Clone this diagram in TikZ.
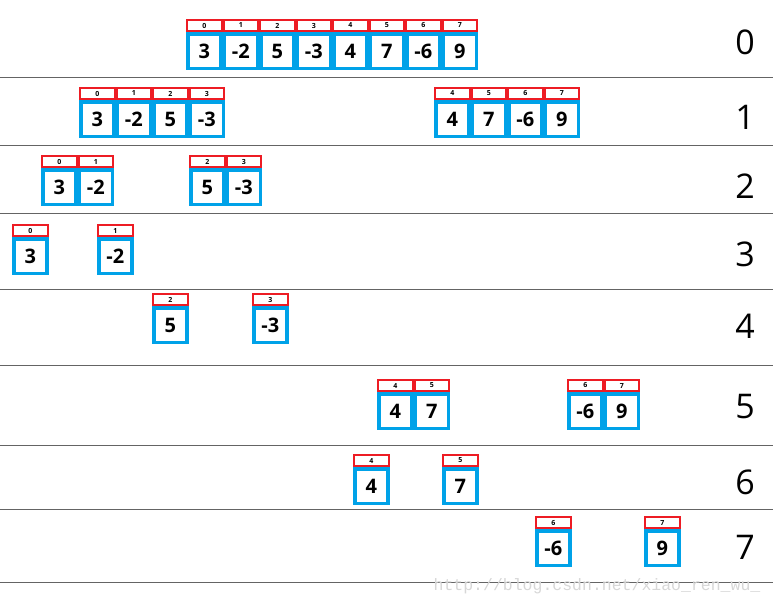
\documentclass[tikz,border=0pt]{standalone}
\usepackage{fontspec}
\setmainfont{Open Sans}
\newfontfamily\markfont{Liberation Mono}
\usetikzlibrary{positioning}
\definecolor{idxred}{RGB}{237,28,36}
\definecolor{valblue}{RGB}{0,162,232}
\definecolor{rulegray}{RGB}{100,100,100}
\definecolor{markgray}{RGB}{215,215,215}

\tikzset{
  idx/.style={draw=idxred, line width=2pt, fill=white, minimum width=34.5pt,
    minimum height=11pt, inner sep=0pt, outer sep=0pt,
    font=\fontsize{7}{7}\selectfont\bfseries},
  val/.style={draw=valblue, line width=3.5pt, fill=white, minimum width=33pt,
    minimum height=34.5pt, inner sep=0pt, outer sep=0pt,
    font=\fontsize{20}{20}\selectfont\bfseries},
  level/.style={font=\fontsize{34}{34}\selectfont},
  sep/.style={draw=rulegray, line width=1pt}
}

% one block of cells: name, left x, top y, first index, values
\newcommand{\cellrow}[5]{%
  \foreach \v [count=\k from 0] in {#5} {
    \pgfmathtruncatemacro{\n}{#4+\k}
    \node[idx] (#1i\k) at (#2+36.5*\k+18.25, #3+6.5) {\n};
    \node[val] (#1v\k) at (#2+36.5*\k+18.25, #3+32) {\v};
  }%
}

\begin{document}
\begin{tikzpicture}[x=1pt,y=-1pt]
    \useasboundingbox (0,0) rectangle (773,605);
    \foreach \y in {77,145,213,289,365,445,509,582}
        \draw[sep] (0,\y) -- (773,\y);

    \node[level] (lv0) at (745,42) {0};
    \node[level] (lv1) at (745,117) {1};
    \node[level] (lv2) at (745,186) {2};
    \node[level] (lv3) at (745,254) {3};
    \node[level] (lv4) at (745,326) {4};
    \node[level] (lv5) at (745,407) {5};
    \node[level] (lv6) at (745,482) {6};
    \node[level] (lv7) at (745,547) {7};

    \cellrow{r0}{186}{19}{0}{3,-2,5,-3,4,7,-6,9}
    \cellrow{r1a}{79}{87}{0}{3,-2,5,-3}
    \cellrow{r1b}{434}{87}{4}{4,7,-6,9}
    \cellrow{r2a}{41}{155}{0}{3,-2}
    \cellrow{r2b}{189}{155}{2}{5,-3}
    \cellrow{r3a}{12}{224}{0}{3}
    \cellrow{r3b}{97}{224}{1}{-2}
    \cellrow{r4a}{152}{293}{2}{5}
    \cellrow{r4b}{252}{293}{3}{-3}
    \cellrow{r5a}{377}{379}{4}{4,7}
    \cellrow{r5b}{567}{379}{6}{-6,9}
    \cellrow{r6a}{353}{454}{4}{4}
    \cellrow{r6b}{442}{454}{5}{7}
    \cellrow{r7a}{535}{516}{6}{-6}
    \cellrow{r7b}{644}{516}{7}{9}

    \node[text=markgray, font=\markfont\fontsize{16.5}{16.5}\selectfont] (mark) at (597,586) {http://blog.csdn.net/xiao\_ren\_wu\_};
\end{tikzpicture}
\end{document}
